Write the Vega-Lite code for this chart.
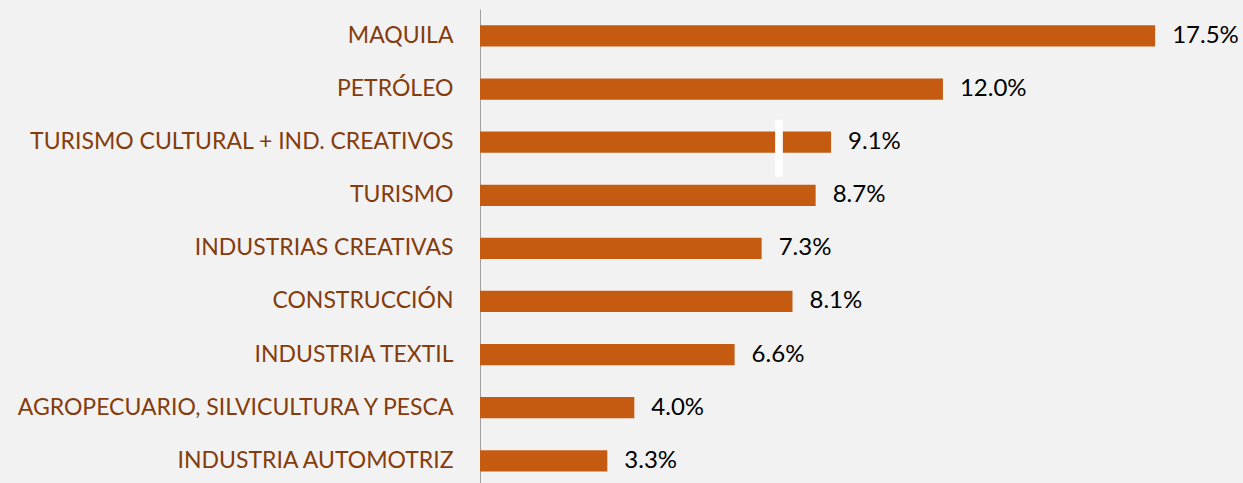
{
  "$schema": "https://vega.github.io/schema/vega-lite/v6.json",
  "autosize": {"type": "none"},
  "padding": {"left": 480, "top": 9, "right": 30, "bottom": 0},
  "width": 733,
  "height": 474,
  "background": "#f2f2f2",
  "config": {"view": {"stroke": null}, "font": "Lato"},
  "data": {
    "values": [
      {"sector": "MAQUILA", "valor": 17.5, "etiqueta": "17.5%"},
      {"sector": "PETRÓLEO", "valor": 12.0, "etiqueta": "12.0%"},
      {"sector": "TURISMO CULTURAL + IND. CREATIVOS\u00a0", "valor": 9.1, "etiqueta": "9.1%", "marca_ini": 7.65, "marca_fin": 7.85},
      {"sector": "TURISMO", "valor": 8.7, "etiqueta": "8.7%"},
      {"sector": "INDUSTRIAS CREATIVAS", "valor": 7.3, "etiqueta": "7.3%"},
      {"sector": "CONSTRUCCIÓN", "valor": 8.1, "etiqueta": "8.1%"},
      {"sector": "INDUSTRIA TEXTIL", "valor": 6.6, "etiqueta": "6.6%"},
      {"sector": "AGROPECUARIO, SILVICULTURA Y PESCA\u00a0", "valor": 4.0, "etiqueta": "4.0%"},
      {"sector": "INDUSTRIA AUTOMOTRIZ", "valor": 3.3, "etiqueta": "3.3%"}
    ]
  },
  "encoding": {
    "y": {
      "field": "sector",
      "type": "nominal",
      "sort": null,
      "scale": {"paddingInner": 0.6, "paddingOuter": 0.263, "align": 0.585},
      "axis": {
        "title": null,
        "ticks": false,
        "domain": true,
        "domainColor": "#a0a0a0",
        "domainWidth": 1,
        "labelColor": "#843c0c",
        "labelFontSize": 23,
        "labelFont": "Lato",
        "labelPadding": 27,
        "labelLimit": 0
      }
    }
  },
  "layer": [
    {
      "mark": {"type": "bar", "color": "#c55a11"},
      "encoding": {
        "x": {"field": "valor", "type": "quantitative", "scale": {"domain": [0, 19], "nice": false, "zero": true}, "axis": null}
      }
    },
    {
      "mark": {"type": "text", "align": "left", "baseline": "middle", "dx": 17, "fontSize": 24, "font": "Lato", "color": "#000000"},
      "encoding": {
        "x": {"field": "valor", "type": "quantitative"},
        "text": {"field": "etiqueta", "type": "nominal"}
      }
    },
    {
      "transform": [{"filter": "datum.marca_ini != null"}],
      "mark": {"type": "bar", "color": "#ffffff", "height": {"band": 2.69}, "yOffset": 6},
      "encoding": {
        "x": {"field": "marca_ini", "type": "quantitative"},
        "x2": {"field": "marca_fin"}
      }
    }
  ]
}
